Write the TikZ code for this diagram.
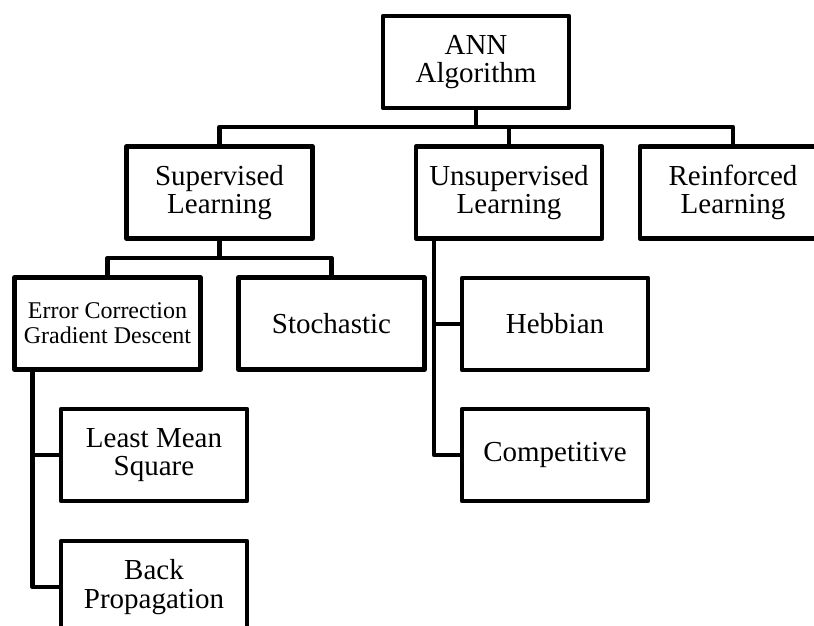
\documentclass[tikz,border=0pt]{standalone}
\usepackage{fontspec}
\setmainfont{Liberation Serif}
\begin{document}
\begin{tikzpicture}[x=1pt,y=-1pt,
  box/.style={draw=black,line width=4.5pt,line join=round,fill=white,
    minimum width=186pt,minimum height=92pt,inner sep=0pt,outer sep=0pt,
    align=center,font=\fontsize{29}{28.5}\selectfont},
  smallbox/.style={box,font=\fontsize{24}{25}\selectfont},
  link/.style={draw=black,line width=4.5pt,line join=round}]
\clip (0,0) rectangle (814,626);
\useasboundingbox (0,0) rectangle (814,626);

% connectors: algorithm to learning types
\coordinate (bar1) at (476,127);
\coordinate (bar2) at (219.5,258);

% level 0
\node[box] (ann) at (476,62) {ANN\\Algorithm};

% level 1
\node[box] (sup) at (219.5,192.5) {Supervised\\Learning};
\node[box] (uns) at (509,192.5) {Unsupervised\\Learning};
\node[box] (rein) at (733,192.5) {Reinforced\\Learning};

% level 2
\node[smallbox] (err) at (107.5,323.5) {Error Correction\\Gradient Descent};
\node[box] (sto) at (331.5,323.5) {Stochastic};
\node[box] (heb) at (555,324) {Hebbian};
\node[box] (comp) at (555,455) {Competitive};

% level 3
\node[box] (lms) at (154,455) {Least Mean\\Square};
\node[box] (bp) at (154,587) {Back\\Propagation};

% algorithm to learning types
\draw[link] (ann.south) -- (bar1);
\draw[link] (sup.north) |- (bar1) -| (rein.north);
\draw[link] (uns.north) -- (uns.north |- bar1);

% supervised learning
\draw[link] (sup.south) -- (bar2);
\draw[link] (err.north) |- (bar2) -| (sto.north);

% error correction branch
\coordinate (trunkA) at ([xshift=18pt]err.south west);
\draw[link] (trunkA) |- (lms.west);
\draw[link] (trunkA) |- (bp.west);

% unsupervised learning
\coordinate (trunkB) at ([xshift=18pt]uns.south west);
\draw[link] (trunkB) |- (heb.west);
\draw[link] (trunkB) |- (comp.west);
\end{tikzpicture}
\end{document}
